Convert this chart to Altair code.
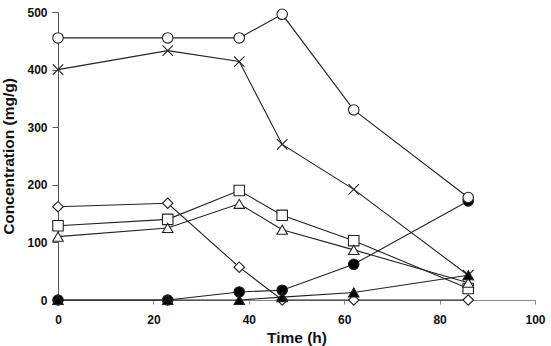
import altair as alt
import pandas as pd

# Sampling times (h)
time_h = [0, 23, 38, 47, 62, 86]

# Concentration series (mg/g), one list per marker style
open_circle = [455, 455, 455, 496, 330, 178]
cross_x = [400, 433, 414, 270, 192, 43]
open_diamond = [162, 168, 57, 0, 0, 0]
open_square = [129, 140, 190, 147, 103, 20]
open_triangle = [110, 125, 167, 122, 87, 30]
filled_circle = [0, 0, 14, 17, 62, 172]
filled_triangle = [0, 0, 0, 5, 13, 43]

series = [
    ("diamond", open_diamond, "diamond", "white", 110),
    ("square", open_square, "square", "white", 110),
    ("open triangle", open_triangle, "triangle-up", "white", 110),
    ("filled circle", filled_circle, "circle", "black", 115),
    ("open circle", open_circle, "circle", "white", 115),
    ("cross", cross_x, "M-1,-1L1,1M-1,1L1,-1", "white", 70),
    ("filled triangle", filled_triangle, "triangle-up", "black", 110),
]

rows = []
for order, (name, vals, _, _, _) in enumerate(series):
    for t, v in zip(time_h, vals):
        rows.append({"series": name, "order": order, "time": t, "conc": v})
df = pd.DataFrame(rows)

names = [s[0] for s in series]
shapes = [s[2] for s in series]
fills = [s[3] for s in series]
sizes = [s[4] for s in series]

x_enc = alt.X("time:Q", title="Time (h)",
              scale=alt.Scale(domain=[0, 100], nice=False),
              axis=alt.Axis(values=[0, 20, 40, 60, 80, 100], labelFlush=False,
                            tickSize=4, labelPadding=10, titlePadding=5,
                            domainColor="#888", tickColor="#888"))
y_enc = alt.Y("conc:Q", title="Concentration (mg/g)",
              scale=alt.Scale(domain=[0, 500], nice=False),
              axis=alt.Axis(values=[0, 100, 200, 300, 400, 500], labelFlush=False,
                            tickSize=6, labelPadding=5, titlePadding=10,
                            domainColor="#555", tickColor="#555"))

lines = alt.Chart(df).mark_line(color="#222", strokeWidth=1.1).encode(
    x=x_enc, y=y_enc, detail="series:N", order="time:Q"
)

points = alt.Chart(df).mark_point(filled=False, stroke="#222", strokeWidth=1.1, opacity=1).encode(
    x=x_enc,
    y=y_enc,
    shape=alt.Shape("series:N", scale=alt.Scale(domain=names, range=shapes), legend=None),
    fill=alt.Fill("series:N", scale=alt.Scale(domain=names, range=fills), legend=None),
    size=alt.Size("series:N", scale=alt.Scale(domain=names, range=sizes), legend=None),
)

chart = (
    alt.layer(lines, points)
    .properties(
        width=477,
        height=288,
        autosize=alt.AutoSizeParams(type="none"),
        padding={"left": 58, "top": 12, "right": 16, "bottom": 46},
    )
    .configure_view(stroke=None)
    .configure_axis(
        grid=False,
        labelFont="Liberation Sans",
        labelFontWeight="bold",
        labelFontSize=12,
        labelColor="#111",
        titleFont="Liberation Sans",
        titleFontWeight="bold",
        titleFontSize=15.5,
        titleColor="#111",
    )
)

chart.save("out.html", embed_options={"renderer": "svg", "actions": False})
